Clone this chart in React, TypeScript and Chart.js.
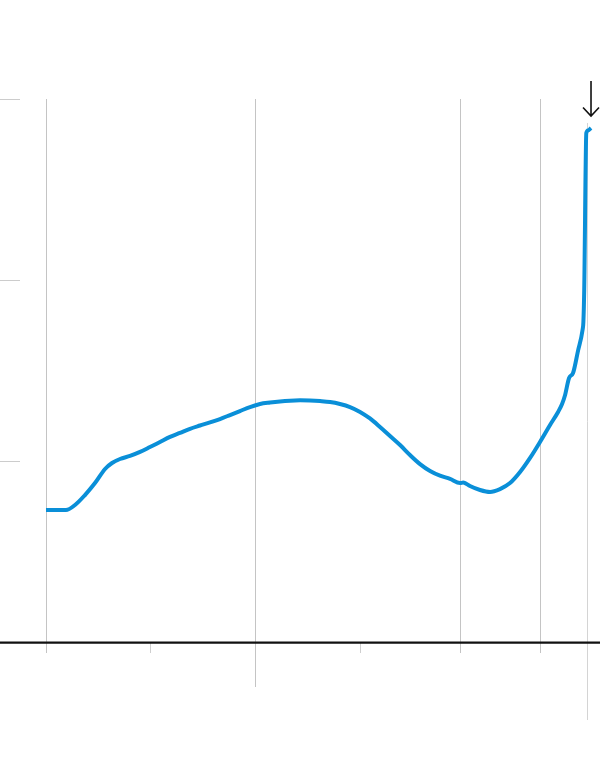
import React, { useEffect, useRef } from "react";
import { Chart, registerables } from "chart.js";

Chart.register(...registerables);

// Horizontal position (decimal year-like units) of each traced point
const years = [
  1970.0, 1971.91, 1972.78, 1973.73, 1974.69, 1975.65, 1976.32, 1977.08, 1978.04, 1979.0,
  1979.95, 1980.91, 1981.87, 1982.82, 1983.78, 1984.74, 1985.69, 1986.65, 1987.61, 1988.56,
  1989.52, 1990.48, 1991.44, 1992.39, 1993.35, 1994.31, 1995.26, 1996.22, 1997.18, 1998.13,
  1999.09, 2000.05, 2001.0, 2001.96, 2002.92, 2003.88, 2004.83, 2005.79, 2006.75, 2007.7,
  2008.66, 2009.62, 2009.91, 2010.1, 2010.57, 2011.53, 2012.49, 2013.44, 2014.4, 2015.36,
  2016.32, 2017.27, 2018.23, 2019.0, 2019.38, 2019.67, 2020.05, 2020.43, 2020.91, 2021.34,
  2021.42, 2021.5, 2021.7, 2021.87, 2022.15,
];

// Series values
const values = [
  0.729, 0.729, 0.757, 0.812, 0.878, 0.956, 0.989, 1.011, 1.028, 1.05,
  1.077, 1.105, 1.133, 1.155, 1.178, 1.196, 1.213, 1.232, 1.254, 1.276,
  1.298, 1.315, 1.323, 1.329, 1.333, 1.335, 1.334, 1.331, 1.326, 1.315,
  1.298, 1.271, 1.235, 1.188, 1.138, 1.088, 1.033, 0.983, 0.945, 0.919,
  0.901, 0.878, 0.881, 0.878, 0.862, 0.84, 0.829, 0.845, 0.878, 0.939,
  1.017, 1.105, 1.199, 1.271, 1.315, 1.365, 1.459, 1.486, 1.61, 1.724,
  1.768, 1.945, 2.812, 2.826, 2.84,
];

// Gridline values
const yGridValues = [1, 2, 3];
const shortGridYears = [1970, 2009.62, 2017.27];
const minorTickYears = [1980, 2000];
const longGridYears = [1990];
const markerYear = 2021.72;

const X_MIN = 1965.6;
const X_MAX = 2023.01;
const Y_MIN = -0.663;
const Y_MAX = 3.547;

const guidesPlugin = {
  id: "guides",
  beforeDatasetsDraw(chart: any) {
    const ctx = chart.ctx;
    const xs = chart.scales.x;
    const ys = chart.scales.y;
    const area = chart.chartArea;
    const y0 = ys.getPixelForValue(0);
    const yTop = ys.getPixelForValue(3);
    ctx.save();
    ctx.lineWidth = 1;
    // short horizontal stubs
    ctx.strokeStyle = "#cccccc";
    yGridValues.forEach((v) => {
      const y = Math.round(ys.getPixelForValue(v)) + 0.5;
      ctx.beginPath();
      ctx.moveTo(area.left, y);
      ctx.lineTo(area.left + 20, y);
      ctx.stroke();
    });
    const vline = (yr: number, top: number, bottom: number, color: string) => {
      const x = Math.round(xs.getPixelForValue(yr)) + 0.5;
      ctx.strokeStyle = color;
      ctx.beginPath();
      ctx.moveTo(x, top);
      ctx.lineTo(x, bottom);
      ctx.stroke();
    };
    shortGridYears.forEach((yr) => vline(yr, yTop, y0 + 11, "#c4c4c4"));
    longGridYears.forEach((yr) => vline(yr, yTop, y0 + 45, "#c4c4c4"));
    minorTickYears.forEach((yr) => vline(yr, y0, y0 + 11, "#cfcfcf"));
    vline(markerYear, yTop + 24, y0 + 78, "#d4d4d4");
    // zero axis
    ctx.strokeStyle = "#111111";
    ctx.lineWidth = 2.2;
    ctx.beginPath();
    ctx.moveTo(area.left, y0 + 0.6);
    ctx.lineTo(area.right, y0 + 0.6);
    ctx.stroke();
    ctx.restore();
  },
  afterDatasetsDraw(chart: any) {
    const ctx = chart.ctx;
    const xs = chart.scales.x;
    const ys = chart.scales.y;
    const lastX = xs.getPixelForValue(years[years.length - 1]);
    const top = ys.getPixelForValue(3) - 18;
    const tip = top + 35;
    ctx.save();
    ctx.strokeStyle = "#111111";
    ctx.lineWidth = 1.6;
    ctx.beginPath();
    ctx.moveTo(lastX, top);
    ctx.lineTo(lastX, tip);
    ctx.moveTo(lastX - 8, tip - 8.5);
    ctx.lineTo(lastX, tip);
    ctx.lineTo(lastX + 8, tip - 8.5);
    ctx.stroke();
    ctx.restore();
  },
};

export default function App() {
  const canvasRef = useRef<HTMLCanvasElement | null>(null);

  useEffect(() => {
    if (!canvasRef.current) return;
    const chart = new Chart(canvasRef.current, {
      type: "line",
      data: {
        datasets: [
          {
            data: years.map((x, i) => ({ x, y: values[i] })),
            borderColor: "#0a8fd8",
            borderWidth: 4,
            pointRadius: 0,
            fill: false,
            cubicInterpolationMode: "monotone",
            borderCapStyle: "butt",
            borderJoinStyle: "round",
          },
        ],
      },
      options: {
        animation: false,
        responsive: false,
        maintainAspectRatio: false,
        layout: { padding: 0 },
        plugins: {
          legend: { display: false },
          title: { display: false },
          tooltip: { enabled: false },
        },
        scales: {
          x: { type: "linear", min: X_MIN, max: X_MAX, display: false },
          y: { type: "linear", min: Y_MIN, max: Y_MAX, display: false },
        },
        events: [],
      },
      plugins: [guidesPlugin],
    });
    return () => chart.destroy();
  }, []);

  return (
    <div style={{ position: "absolute", left: 0, top: 0, width: 600, height: 762, background: "#ffffff" }}>
      <canvas ref={canvasRef} width={600} height={762} style={{ display: "block" }} />
    </div>
  );
}
